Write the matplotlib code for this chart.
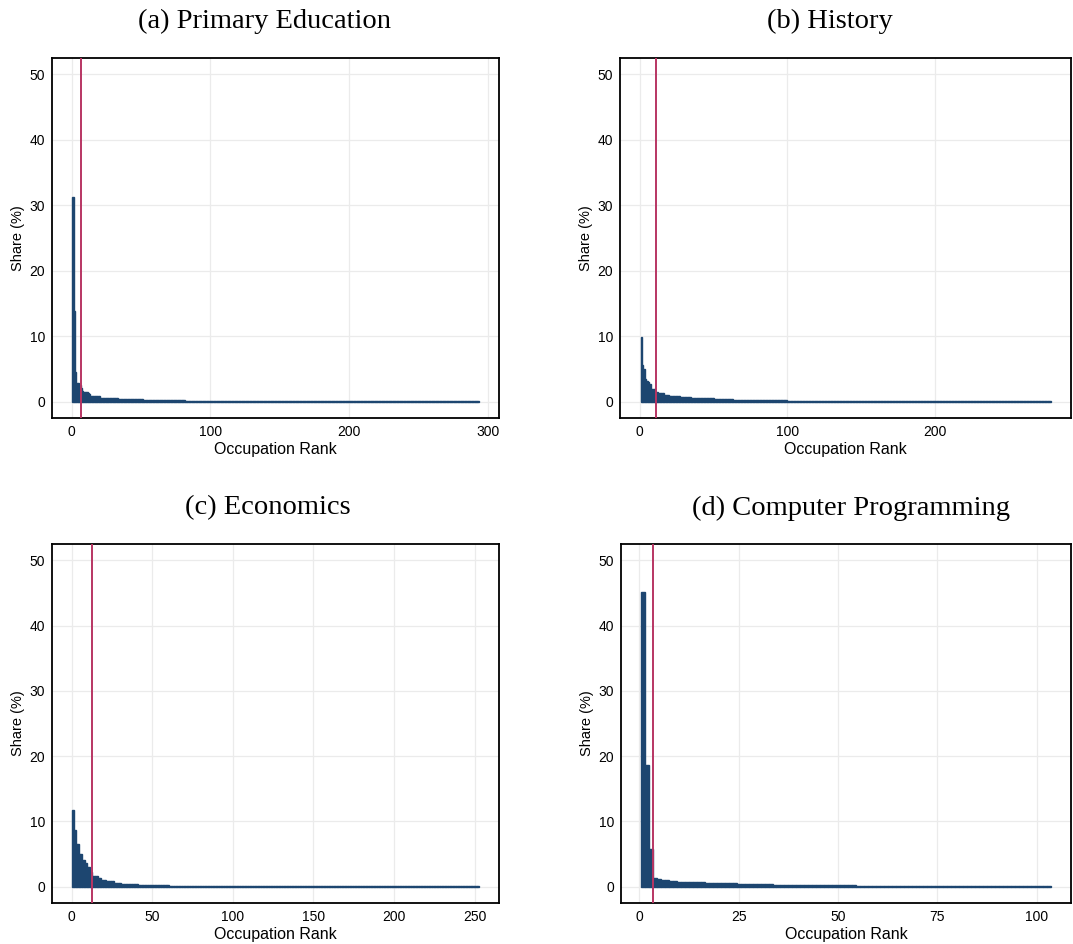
import numpy as np
import matplotlib
matplotlib.use("Agg")
import matplotlib.pyplot as plt

titles = ["(a) Primary Education", "(b) History", "(c) Economics", "(d) Computer Programming"]

levels_a = [31.3, 13.9, 4.6, 2.9, 2.8, 2.5, 2.1, 1.6, 1.5, 1.4, 1.3, 1.2, 0.8, 0.6, 0.46, 0.2, 0.03]
counts_a = [1, 1, 1, 1, 1, 1, 1, 1, 1, 2, 1, 1, 7, 13, 18, 30, 212]

levels_b = [9.9, 5.6, 5.05, 3.4, 3.2, 3.0, 2.65, 2.0, 1.9, 1.5, 1.3, 1.0, 0.9, 0.8, 0.66, 0.5, 0.36, 0.2, 0.04]
counts_b = [1, 1, 1, 1, 1, 1, 1, 2, 1, 2, 4, 3, 4, 4, 7, 16, 13, 36, 179]

levels_c = [11.8, 8.7, 6.6, 5.05, 4.95, 4.1, 3.7, 3.0, 2.2, 1.7, 1.26, 1.06, 0.86, 0.6, 0.45, 0.3, 0.15, 0.1, 0.03]
counts_c = [1, 1, 2, 1, 1, 2, 1, 2, 1, 4, 2, 3, 5, 4, 11, 19, 10, 60, 122]

levels_d = [45.1, 18.6, 5.8, 1.3, 1.2, 1.1, 1.0, 0.87, 0.75, 0.6, 0.55, 0.42, 0.38, 0.3, 0.25, 0.15, 0.1, 0.03]
counts_d = [1, 1, 1, 1, 1, 1, 1, 2, 7, 3, 5, 7, 2, 6, 15, 10, 35, 4]

cutoffs = [6.8, 11.1, 12.6, 3.4]
xticks = [[0, 100, 200, 300], [0, 100, 200], [0, 50, 100, 150, 200, 250], [0, 25, 50, 75, 100]]

series = [(levels_a, counts_a), (levels_b, counts_b), (levels_c, counts_c), (levels_d, counts_d)]

bar_col = "#1d4670"
line_col = "#b83563"
W, H = 1073, 944

fig = plt.figure(figsize=(W / 100, H / 100), dpi=100)

# axes boxes in pixels: left, right, top, bottom
boxes = [(52, 499, 58, 418), (620, 1071, 58, 418), (52, 499, 544, 903), (621, 1071, 544, 903)]
title_pos = [(265, 21), (830, 21), (268, 508), (851, 508)]

for i, (lev, cnt) in enumerate(series):
    l, r, t, b = boxes[i]
    ax = fig.add_axes([l / W, 1 - b / H, (r - l) / W, (b - t) / H])
    share = np.repeat(lev, cnt)
    rank = np.arange(1, len(share) + 1)
    n = len(share)
    ax.bar(rank, share, width=1.0, color=bar_col, edgecolor=bar_col, linewidth=1.0, zorder=2)
    ax.axvline(cutoffs[i], color=line_col, lw=1.4, zorder=3)
    pad = 0.05 * n
    ax.set_xlim(0.5 - pad, n + 0.5 + pad)
    ax.set_ylim(-2.5, 52.5)
    ax.set_yticks([0, 10, 20, 30, 40, 50])
    ax.set_xticks(xticks[i])
    ax.grid(True, color="#ebebeb", lw=0.9, zorder=0)
    ax.set_axisbelow(True)
    ax.tick_params(length=0, pad=5, labelsize=10)
    for lab in ax.get_xticklabels() + ax.get_yticklabels():
        lab.set_family("Liberation Sans")
    for s in ax.spines.values():
        s.set_color("black")
        s.set_linewidth(1.3)
    ax.set_xlabel("Occupation Rank", family="Liberation Sans", fontsize=11.5, labelpad=2)
    ax.set_ylabel("Share (%)", family="Liberation Sans", fontsize=10.5, labelpad=3)
    tx, ty = title_pos[i]
    fig.text(tx / W, 1 - ty / H, titles[i], family="Liberation Serif", fontsize=20.5,
             ha="center", va="center")

fig.savefig("out.png", dpi=100)
